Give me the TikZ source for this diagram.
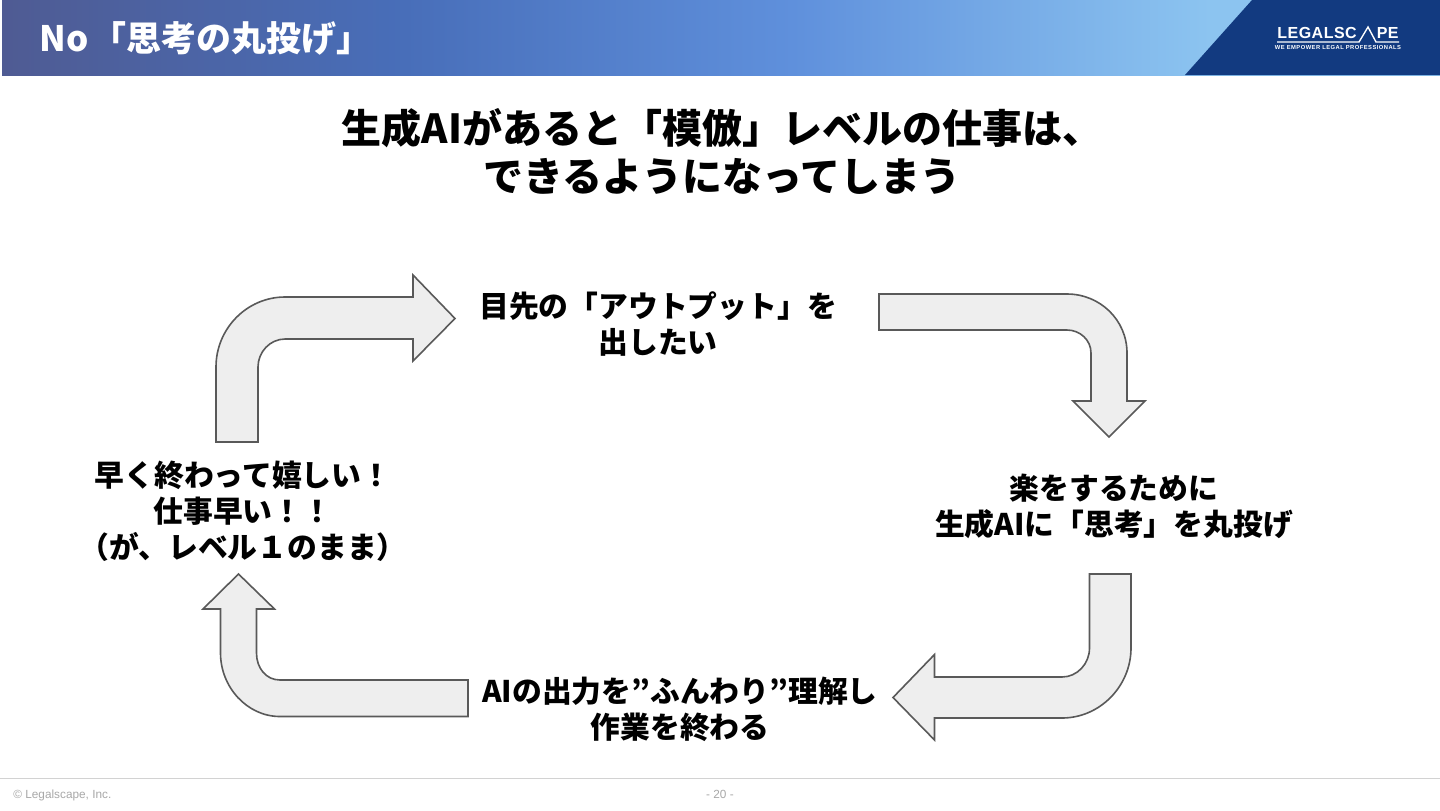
\documentclass[tikz,border=0pt]{standalone}
\usepackage{fontspec}
\setmainfont{Noto Sans CJK JP}
\newfontfamily\footfont{Liberation Sans}
\newfontfamily\logofont{Liberation Sans}
\usepackage{xcolor}
\definecolor{navyband}{HTML}{123A80}
\definecolor{arrowfill}{HTML}{EEEEEE}
\definecolor{arrowline}{HTML}{595959}
\definecolor{footgray}{HTML}{A8A8A8}
\definecolor{headA}{HTML}{4F5B93}
\definecolor{headB}{HTML}{486EB9}
\definecolor{headC}{HTML}{5F90DC}
\definecolor{headD}{HTML}{8CC4F0}
\pgfdeclarehorizontalshading{headerband}{100bp}{
    color(0bp)=(headA); color(25bp)=(headA); color(39bp)=(headB); color(52.5bp)=(headC); color(67bp)=(headD); color(100bp)=(headD)}

\begin{document}
\begin{tikzpicture}[x=0.5pt, y=-0.5pt,
    headertext/.style={anchor=west, inner sep=0pt, font=\fontsize{17.5}{20}\selectfont\bfseries, text=white},
    bigtitle/.style={align=center, inner sep=0pt, font=\fontsize{20}{24}\selectfont\bfseries, text=black},
    steptext/.style={align=center, inner sep=0pt, font=\fontsize{14.9}{18}\selectfont\bfseries, text=black},
    foottext/.style={inner sep=0pt, font=\fontsize{5.9}{7}\selectfont\footfont, text=footgray},
    logotext/.style={inner sep=0pt, text=white, font=\fontsize{8}{9}\selectfont\logofont\bfseries},
    bentarrow/.style={draw=arrowline, fill=arrowfill, line width=0.8pt, line join=miter}
]
    \useasboundingbox (0,0) rectangle (1440,810);

    % Header band
    \fill[white] (0,0) rectangle (1440,810);
    \shade[shading=headerband] (2,0) rectangle (1440,75);
    \fill[navyband] (1252,0) -- (1185,75) -- (1440,75) -- (1440,0) -- cycle;
    \node[headertext] (header) at (39,38) {No\hspace{1.5pt}「思考の丸投げ」};

    % Logo
    \node[logotext, anchor=west] (logoleft) at (1277,33) {\addfontfeature{LetterSpace=3}LEGALSC};
    \node[logotext, anchor=east] (logoright) at (1399,33) {\addfontfeature{LetterSpace=3}PE};
    \draw[white, line width=0.7pt] (1277,42) -- (1359,42) -- (1368,27) -- (1376,42) -- (1399,42);
    \node[logotext, anchor=center, font=\fontsize{2.9}{3}\selectfont\logofont\bfseries] (logosub) at (1338,47.5) {\addfontfeature{LetterSpace=8}WE EMPOWER LEGAL PROFESSIONALS};

    % Title
    \node[bigtitle] (maintitle) at (722,151) {生成AIがあると「模倣」レベルの仕事は、\\できるようになってしまう};

    % Steps
    \node[steptext] (output) at (658,324) {目先の「アウトプット」を\\出したい};
    \node[steptext] (throw) at (1114,506) {楽をするために\\生成AIに「思考」を丸投げ};
    \node[steptext] (finish) at (680,709) {AIの出力を”ふんわり”理解し\\作業を終わる};
    \node[steptext] (happy) at (243,511) {早く終わって嬉しい！\\仕事早い！！\\（が、レベル１のまま）};

    % Arrows
    \draw[bentarrow] (216,442) -- (216,367) .. controls (216,328.5) and (247,297) .. (285,297) -- (413,297) -- (413,275) -- (455,318.5) -- (413,361) -- (413,339) -- (285,339) .. controls (270,339) and (258,352) .. (258,367) -- (258,442) -- cycle;
    \draw[bentarrow] (879,294) -- (1067,294) .. controls (1100,294) and (1127,320) .. (1127,353) -- (1127,401) -- (1145,401) -- (1109,437) -- (1073,401) -- (1091,401) -- (1091,353) .. controls (1091,340) and (1080,330) .. (1067,330) -- (879,330) -- cycle;
    \draw[bentarrow] (1089.5,574) -- (1131,574) -- (1131,648) .. controls (1131,686) and (1100,718) .. (1062,718) -- (934.5,718) -- (934.5,740) -- (893,697.5) -- (934.5,654.5) -- (934.5,677) -- (1062,677) .. controls (1077,677) and (1089.5,664) .. (1089.5,648) -- cycle;
    \draw[bentarrow] (468,680) -- (468,716.5) -- (280,716.5) .. controls (247,716.5) and (220.5,687) .. (220.5,653) -- (220.5,609) -- (203,609) -- (238.5,574) -- (274.5,609) -- (256.5,609) -- (256.5,653) .. controls (256.5,668) and (266,680) .. (280,680) -- cycle;

    % Footer
    \draw[gray!35, line width=0.5pt] (0,778) -- (1440,778);
    \node[foottext, anchor=west] (copyright) at (13,795) {© Legalscape, Inc.};
    \node[foottext] (pageno) at (720,794.5) {- 20 -};
\end{tikzpicture}
\end{document}
